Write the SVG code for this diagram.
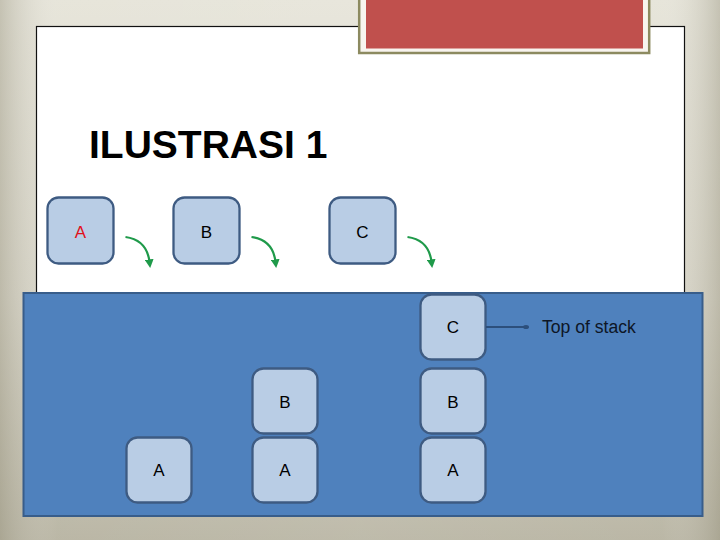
<svg xmlns="http://www.w3.org/2000/svg" width="720" height="540" viewBox="0 0 720 540">
<defs>
<linearGradient id="bgv" x1="0" y1="0" x2="0" y2="1">
<stop offset="0" stop-color="#e4e2d6"/>
<stop offset="0.55" stop-color="#d6d3c5"/>
<stop offset="1" stop-color="#b3af9c"/>
</linearGradient>
<linearGradient id="bgh" x1="0" y1="0" x2="1" y2="0">
<stop offset="0" stop-color="#9f9b88" stop-opacity="0.45"/>
<stop offset="0.08" stop-color="#ffffff" stop-opacity="0.1"/>
<stop offset="0.5" stop-color="#ffffff" stop-opacity="0.15"/>
<stop offset="0.92" stop-color="#ffffff" stop-opacity="0.1"/>
<stop offset="1" stop-color="#9f9b88" stop-opacity="0.45"/>
</linearGradient>
<marker id="green" viewBox="0 0 10 10" refX="3" refY="5" markerWidth="4" markerHeight="4" orient="auto" markerUnits="strokeWidth">
<path d="M0,0 L10,5 L0,10 z" fill="#1f9a4a"/>
</marker>
<marker id="dot" viewBox="0 0 10 10" refX="5" refY="5" markerWidth="3" markerHeight="3" orient="auto" markerUnits="strokeWidth">
<ellipse cx="5" cy="5" rx="5" ry="3.5" fill="#2c4f7c"/>
</marker>
</defs>
<style>
.node rect{fill:#b9cde5;stroke:#3e5b82;stroke-width:2.3}
.lbl{font-family:"Liberation Sans",Arial,sans-serif;font-size:17px;fill:#000;text-anchor:middle}
.garrow{fill:none;stroke:#1f9a4a;stroke-width:2.2;marker-end:url(#green)}
</style>
<rect width="720" height="540" fill="url(#bgv)"/>
<rect width="720" height="540" fill="url(#bgh)"/>
<g id="title-panel">
<rect x="36.5" y="26.5" width="648" height="270" fill="#ffffff" stroke="#111111" stroke-width="1.2"/>
</g>
<g id="red-banner">
<rect x="359.2" y="-5" width="290" height="58" fill="#f8f4ee" stroke="#8c8a60" stroke-width="2.5"/>
<rect x="366" y="-5" width="277" height="53.5" fill="#c0504d"/>
</g>
<text x="89" y="158" font-family="'Liberation Sans',Arial,sans-serif" font-size="39" font-weight="bold" fill="#000">ILUSTRASI 1</text>
<g id="stack-panel">
<rect x="23.5" y="293" width="679" height="223" fill="#4f81bd" stroke="#385d8a" stroke-width="2"/>
</g>
<g id="node-top-A" class="node"><rect x="47.5" y="197.5" width="66" height="66" rx="11"/><text class="lbl" x="80.5" y="238" style="fill:#e0101a">A</text></g>
<g id="node-top-B" class="node"><rect x="173.5" y="197.5" width="66" height="66" rx="11"/><text class="lbl" x="206.5" y="238">B</text></g>
<g id="node-top-C" class="node"><rect x="329.5" y="197.5" width="66" height="66" rx="11"/><text class="lbl" x="362.5" y="238">C</text></g>
<g id="node-s1-A" class="node"><rect x="126.5" y="437.5" width="65" height="65" rx="11"/><text class="lbl" x="159" y="476">A</text></g>
<g id="node-s2-B" class="node"><rect x="252.5" y="368.5" width="65" height="65" rx="11"/><text class="lbl" x="285" y="408">B</text></g>
<g id="node-s2-A" class="node"><rect x="252.5" y="437.5" width="65" height="65" rx="11"/><text class="lbl" x="285" y="476">A</text></g>
<g id="node-s3-C" class="node"><rect x="420.5" y="294.5" width="65" height="65" rx="11"/><text class="lbl" x="453" y="333">C</text></g>
<g id="node-s3-B" class="node"><rect x="420.5" y="368.5" width="65" height="65" rx="11"/><text class="lbl" x="453" y="408">B</text></g>
<g id="node-s3-A" class="node"><rect x="420.5" y="437.5" width="65" height="65" rx="11"/><text class="lbl" x="453" y="476">A</text></g>
<g id="label-top">
<text x="542" y="333.3" font-family="'Liberation Sans',Arial,sans-serif" font-size="17.6" fill="#0d1626">Top of stack</text>
</g>
<g id="connectors">
<path class="garrow" d="M125.5,237 Q147,240 149.5,262"/>
<path class="garrow" d="M251.5,237 Q273,240 275.5,262"/>
<path class="garrow" d="M407.5,237 Q429,240 431.5,262"/>
<line x1="486" y1="327" x2="526" y2="327" stroke="#2c4f7c" stroke-width="2" marker-end="url(#dot)"/>
</g>
</svg>
